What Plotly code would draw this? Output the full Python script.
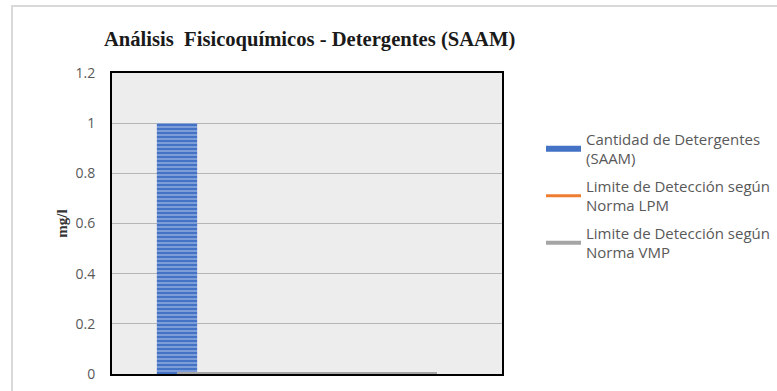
import plotly.graph_objects as go

# Data
categories = ["Muestra 1", "Muestra 2", "Muestra 3"]
detergentes = [1.0, None, None]
limite_lpm = [0, 0, 0]
limite_vmp = [0, 0, 0]
y_ticks = [0, 0.2, 0.4, 0.6, 0.8, 1, 1.2]

bar_name = "Cantidad de Detergentes<br>(SAAM)"
bar_color = "#4472C4"

fig = go.Figure()

fig.add_trace(go.Bar(
    x=categories, y=detergentes,
    name=bar_name,
    showlegend=False,
    marker=dict(
        color=bar_color,
        line=dict(width=0),
        pattern=dict(shape="-", fgcolor="#d3e0f5", size=4, solidity=0.4),
    ),
))
# legend key for the bar series: a wide flat swatch
fig.add_trace(go.Scatter(
    x=[None], y=[None], mode="lines",
    name=bar_name, legendgroup="a",
    line=dict(color=bar_color, width=6),
))
fig.add_trace(go.Scatter(
    x=categories, y=limite_lpm, mode="lines",
    name="Limite de Detección según<br>Norma LPM",
    legendgroup="b",
    line=dict(color="#ED7D31", width=3),
))
fig.add_trace(go.Scatter(
    x=categories, y=limite_vmp, mode="lines",
    name="Limite de Detección según<br>Norma VMP",
    legendgroup="c",
    line=dict(color="#A5A5A5", width=4),
))

tick_font = dict(family="Open Sans, Liberation Sans, sans-serif", size=14, color="#595959")
legend_font = dict(family="Open Sans, Liberation Sans, sans-serif", size=15, color="#595959")

fig.update_layout(
    width=777, height=391,
    margin=dict(l=112, r=275, t=73, b=17, autoexpand=False),
    paper_bgcolor="white",
    plot_bgcolor="#ededed",
    bargap=0.69,
    title=dict(
        text="<b>Análisis  Fisicoquímicos - Detergentes (SAAM)</b>",
        font=dict(family="Liberation Serif, Times New Roman, serif", size=20.6, color="#1a1a1a"),
        x=104 / 777, xanchor="left", xref="container",
        y=1 - 39 / 391, yanchor="middle", yref="container",
    ),
    legend=dict(
        x=1.1, xanchor="left", y=0.835, yanchor="top",
        font=legend_font,
        tracegroupgap=5,
        bgcolor="rgba(0,0,0,0)",
        itemwidth=35,
    ),
    xaxis=dict(
        showticklabels=False, showgrid=False, ticks="",
        showline=True, linecolor="black", linewidth=2, mirror=True,
    ),
    yaxis=dict(
        range=[0, 1.2], tickvals=y_ticks,
        ticktext=[f"{v:g}" for v in y_ticks],
        tickfont=tick_font,
        ticklabelstandoff=12,
        showgrid=True, gridcolor="#b5b5b5", gridwidth=1,
        zeroline=False,
        showline=True, linecolor="black", linewidth=2, mirror=True,
        title=dict(
            text="<b>mg/l</b>",
            font=dict(family="Liberation Serif, Times New Roman, serif", size=15, color="#333333"),
            standoff=4,
        ),
    ),
    shapes=[dict(
        type="rect", xref="paper", yref="paper",
        x0=(12 - 112) / 390, x1=2.0,
        y0=-1.0, y1=(374 - 6) / 301,
        line=dict(color="#d9d9d9", width=2), fillcolor="rgba(0,0,0,0)",
        layer="below",
    )],
)

fig.write_html("out.html")
